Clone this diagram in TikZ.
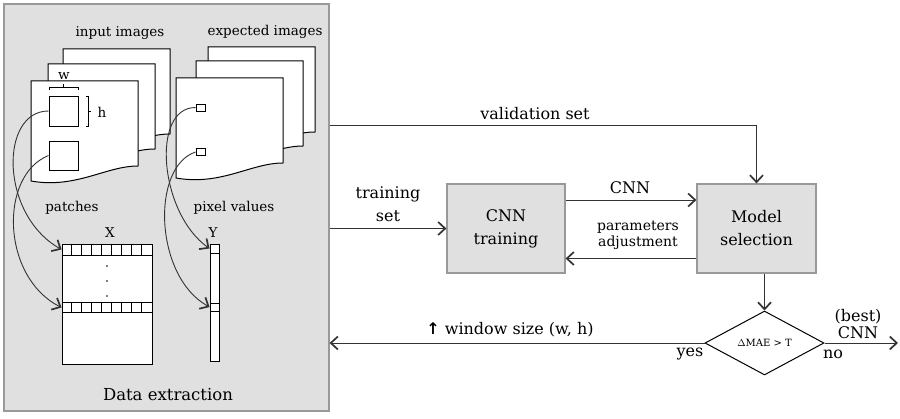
\documentclass[tikz,border=0pt]{standalone}
\usepackage{fontspec}
\setmainfont{DejaVu Serif}
\newfontfamily\symfont{DejaVu Sans}
\usetikzlibrary{arrows.meta,positioning,shapes.geometric,calc}
\newcommand{\lbl}{\fontsize{16}{23}\selectfont}
\newcommand{\smlbl}{\fontsize{13.5}{16}\selectfont}
\newcommand{\docpage}[2]{%
  \draw[pagefill] (#1,#2) -- ++(107,0) -- ++(0,85)
    .. controls +(-32,0) and +(45,8) .. ++(-107,15) -- cycle;}
\tikzset{
  arr/.style={-{Straight Barb[length=7pt,width=13pt,line width=1.7pt]},
              line width=0.9pt, draw=black!80},
  greybox/.style={draw=black!40, line width=1.2pt, fill=black!12, font=\lbl,
                  minimum width=118pt, minimum height=89pt, align=center},
  panelbox/.style={draw=black!40, line width=1.2pt, fill=black!12,
                   minimum width=325pt, minimum height=407pt},
  pagefill/.style={draw=black, line width=1pt, fill=white},
  cellbox/.style={draw=black, line width=0.9pt, fill=white, inner sep=0pt},
  txt/.style={font=\lbl, align=center, inner sep=0pt},
  smtxt/.style={font=\smlbl, align=center, inner sep=0pt},
}
\begin{document}
\begin{tikzpicture}[x=1pt, y=-1pt]
\useasboundingbox (0,0) rectangle (900,419);

% Data extraction panel
\node[panelbox] (panel) at (166.5,207.5) {};
\node[txt, font=\fontsize{16.5}{20}\selectfont] (dataext) at (168,395) {Data extraction};

% input and expected images
\docpage{63}{49}
\docpage{48}{64}
\docpage{31}{81}
\docpage{208}{47}
\docpage{196}{61}
\docpage{176}{78}
\node[smtxt] (inlbl) at (120,33) {input images};
\node[smtxt] (explbl) at (265,32) {expected images};

% patches and pixels
\node[cellbox, minimum width=29pt, minimum height=30pt] (patch1) at (63.5,111) {};
\node[cellbox, minimum width=29pt, minimum height=29pt] (patch2) at (63.5,155.5) {};
\node[cellbox, minimum width=9pt, minimum height=7pt] (pix1) at (200.5,107.5) {};
\node[cellbox, minimum width=9pt, minimum height=7pt] (pix2) at (200.5,152) {};

% window braces
\draw[line width=0.9pt] (49,90) -- (49,87) -- (78,87) -- (78,90) (63.5,87) -- (63.5,84);
\draw[line width=0.9pt] (86,96) -- (88,96) -- (88,126) -- (86,126) (88,111) -- (91,111);
\node[smtxt] (wlbl) at (64,76) {w};
\node[smtxt] (hlbl) at (102,112) {h};

% X matrix
\node[cellbox, minimum width=90pt, minimum height=120pt] (xmat) at (107,304) {};
\node[cellbox, minimum width=90pt, minimum height=11pt] (xrow1) at (107,249.5) {};
\node[cellbox, minimum width=90pt, minimum height=10pt] (xrow2) at (107,307.5) {};
\foreach \i in {1,...,8} {
  \draw[line width=0.9pt] ([xshift=\i*10pt]xrow1.north west) -- ([xshift=\i*10pt]xrow1.south west);
  \draw[line width=0.9pt] ([xshift=\i*10pt]xrow2.north west) -- ([xshift=\i*10pt]xrow2.south west);
}
\foreach \j in {266,281,296}
  \fill (107,\j) circle (0.9);
\node[smtxt] (xlbl) at (110,233) {X};

% Y vector
\node[cellbox, minimum width=9pt, minimum height=117pt] (yvec) at (214.5,302.5) {};
\node[cellbox, minimum width=9pt, minimum height=9pt] (yrow1) at (214.5,248.5) {};
\node[cellbox, minimum width=9pt, minimum height=8pt] (yrow2) at (214.5,307) {};
\node[smtxt] (ylbl) at (213,233) {Y};

\node[smtxt] (patchlbl) at (72,208) {patches};
\node[smtxt] (pixlbl) at (234,208) {pixel values};

% extraction curves
\draw[arr] (patch1.west) .. controls +(-49,0) and +(-62,-35) .. (xrow1.west);
\draw[arr] (patch2.west) .. controls +(-50,20) and +(-60,-30) .. (xrow2.west);
\draw[arr] (pix1.west) .. controls +(-45,0) and +(-50,-35) .. (yrow1.west);
\draw[arr] (pix2.west) .. controls +(-45,15) and +(-55,-30) .. (yrow2.west);

% training and model selection
\node[greybox] (train) at (506,228.5) {CNN\\training};
\node[greybox, minimum width=119pt] (model) at (756.5,228.5) {Model\\selection};
\node[diamond, draw=black, line width=1pt, fill=white, minimum width=119pt,
      minimum height=64pt, inner sep=0pt, font=\fontsize{10}{12}\selectfont] (test) at (764.5,343) {$\Delta$MAE > T};
\coordinate (best) at (898,343);

\draw[arr] ([yshift=82.5pt]panel.east) -- (model.north |- 0,125) -- (model.north);
\node[txt] (vallbl) at (535,114) {validation set};
\draw[arr] (panel.east |- train.west) -- (train.west);
\node[txt] (trainlbl) at (388,204) {training\\set};
\draw[arr] ([yshift=28.5pt]train.east) -- ([yshift=28.5pt]model.west);
\node[txt] (cnnlbl) at (630,188) {CNN};
\draw[arr] ([yshift=-30pt]model.west) -- ([yshift=-30pt]train.east);
\node[txt, font=\fontsize{14}{16}\selectfont] (paramlbl) at (638,235) {parameters\\adjustment};
\draw[arr] (model.south -| test.north) -- (test.north);
\draw[arr] (test.east) -- (best);
\node[txt] (bestlbl) at (858,324) {(best)\\[-6pt]CNN};
\node[txt] (nolbl) at (833,354) {no};
\draw[arr] (test.west) -- (panel.east |- test.west);
\node[txt] (yeslbl) at (690,354) {yes};
\node[txt] (winlbl) at (510,330) {{\symfont\bfseries ↑} window size (w, h)};
\end{tikzpicture}
\end{document}
